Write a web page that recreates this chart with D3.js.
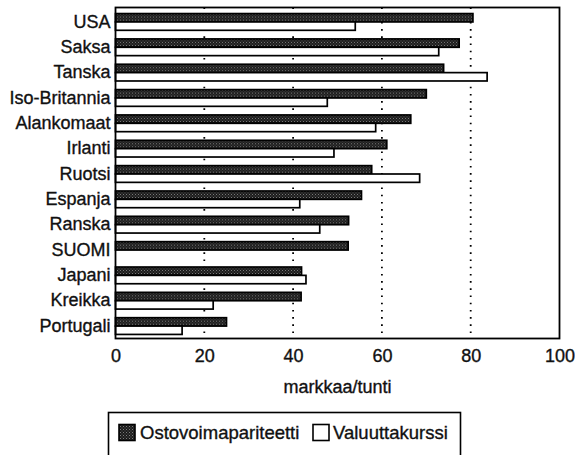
<!DOCTYPE html>
<html><head><meta charset="utf-8">
<script src="https://cdn.jsdelivr.net/npm/d3@7"></script>
<style>
html,body{margin:0;padding:0;background:#fff;}
svg{display:block;font-family:"Liberation Sans",Arial,Helvetica,sans-serif;}
svg text{stroke:#111;stroke-width:0.35px;}
</style></head>
<body>
<svg id="chart" width="575" height="455"></svg>
<script>
const categories = ["USA","Saksa","Tanska","Iso-Britannia","Alankomaat","Irlanti","Ruotsi","Espanja","Ranska","SUOMI","Japani","Kreikka","Portugali"];
const ostovoima = [80.5,77.4,73.9,70.0,66.5,61.1,57.7,55.4,52.5,52.4,41.9,41.8,25.0];
const valuutta  = [54.0,72.8,83.7,47.7,58.6,49.2,68.5,41.5,46.0,null,42.9,22.0,15.0];
const xTicks = [0,20,40,60,80,100];
const gridValues = [20,40,60,80];
const seriesNames = ["Ostovoimapariteetti","Valuuttakurssi"];
const xTitle = "markkaa/tunti";

const svg = d3.select("#chart");
const m = {left:115.5, top:7.5, right:559.5, bottom:338.5};

const defs = svg.append("defs");
const pat = defs.append("pattern").attr("id","dots").attr("patternUnits","userSpaceOnUse")
  .attr("width",3).attr("height",3);
pat.append("rect").attr("width",3).attr("height",3).attr("fill","#1c1c1c");
pat.append("rect").attr("x",0).attr("y",0).attr("width",1).attr("height",1).attr("fill","#7a7a7a");
pat.append("rect").attr("x",1.5).attr("y",1.5).attr("width",1).attr("height",1).attr("fill","#5a5a5a");

const x = d3.scaleLinear().domain([0,100]).range([m.left, m.right]);
const y = d3.scaleBand().domain(categories).range([m.top, m.bottom]).paddingInner(0.34).paddingOuter(0.2);
const sub = d3.scaleBand().domain([0,1]).range([0, y.bandwidth()]);

// gridlines
svg.append("g").selectAll("line").data(gridValues).join("line")
  .attr("x1", d=>x(d)).attr("x2", d=>x(d))
  .attr("y1", m.top).attr("y2", m.bottom)
  .attr("stroke","#000").attr("stroke-width",1.8)
  .attr("stroke-dasharray","1.6,5.6").attr("stroke-linecap","butt");

const rows = svg.append("g").selectAll("g").data(categories).join("g")
  .attr("transform", d=>`translate(0,${y(d)+1})`);

rows.append("rect")
  .attr("x", x(0)).attr("y", sub(0))
  .attr("width", (d,i)=>x(ostovoima[i])-x(0))
  .attr("height", sub.bandwidth())
  .attr("fill","url(#dots)").attr("stroke","#000").attr("stroke-width",1.7);

rows.filter((d,i)=>valuutta[i]!=null).append("rect")
  .attr("x", x(0)).attr("y", sub(1))
  .attr("width", d=>x(valuutta[categories.indexOf(d)])-x(0))
  .attr("height", sub.bandwidth())
  .attr("fill","#fff").attr("stroke","#000").attr("stroke-width",1.7);

// frame
svg.append("rect").attr("x",m.left).attr("y",m.top)
  .attr("width",m.right-m.left).attr("height",m.bottom-m.top)
  .attr("fill","none").attr("stroke","#000").attr("stroke-width",1.8);

// category labels
const yAxis = d3.axisLeft(y).tickSize(0).tickPadding(5);
const ya = svg.append("g").attr("transform",`translate(${m.left},1)`).call(yAxis);
ya.select(".domain").remove();
ya.selectAll("text").attr("font-size",18).attr("fill","#111").attr("font-family","Liberation Sans, Arial, sans-serif");

// x axis labels
const xAxis = d3.axisBottom(x).tickValues(xTicks).tickSize(0).tickPadding(11).tickFormat(d3.format("d"));
const xa = svg.append("g").attr("transform",`translate(0,${m.bottom})`).call(xAxis);
xa.select(".domain").remove();
xa.selectAll("text").attr("font-size",18).attr("fill","#111").attr("font-family","Liberation Sans, Arial, sans-serif");

svg.append("text").attr("x",(m.left+m.right)/2).attr("y",393)
  .attr("text-anchor","middle").attr("font-size",18).attr("fill","#111").text(xTitle);

// legend
const lg = svg.append("g");
lg.append("rect").attr("x",108.5).attr("y",412.5).attr("width",352).attr("height",60)
  .attr("fill","none").attr("stroke","#000").attr("stroke-width",1.6);
lg.append("rect").attr("x",119).attr("y",424.5).attr("width",16).attr("height",16)
  .attr("fill","url(#dots)").attr("stroke","#000").attr("stroke-width",1.6);
lg.append("text").attr("x",140).attr("y",439).attr("font-size",18.5).attr("fill","#111").text(seriesNames[0]);
lg.append("rect").attr("x",313).attr("y",424.5).attr("width",16).attr("height",16)
  .attr("fill","#fff").attr("stroke","#000").attr("stroke-width",1.6);
lg.append("text").attr("x",333).attr("y",439).attr("font-size",18.5).attr("fill","#111").text(seriesNames[1]);
</script>
</body></html>
